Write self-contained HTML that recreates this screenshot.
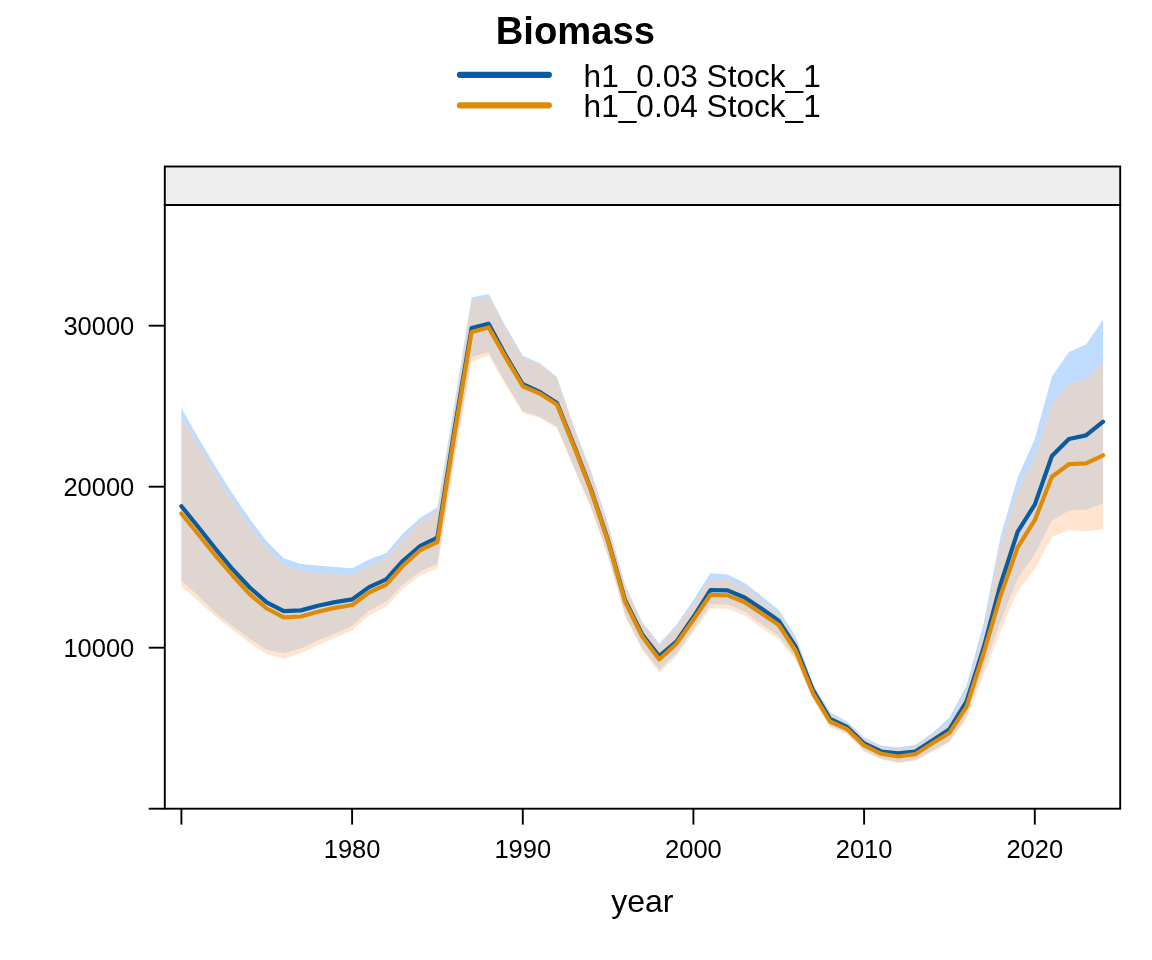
<!DOCTYPE html>
<html lang="en">
<head>
<meta charset="utf-8">
<title>Biomass</title>
<style>
html,body{margin:0;padding:0;background:#fff;}
body{width:1152px;height:960px;overflow:hidden;}
svg{display:block;}
text{font-family:"Liberation Sans",Arial,Helvetica,sans-serif;fill:#000;}
</style>
</head>
<body>
<svg width="1152" height="960" viewBox="0 0 1152 960">
<rect x="0" y="0" width="1152" height="960" fill="#ffffff"/>
<text x="575.4" y="43.9" font-size="38.2" font-weight="bold" text-anchor="middle">Biomass</text>
<line x1="460" y1="74.8" x2="548.8" y2="74.8" stroke="#0B5BA0" stroke-width="6.3" stroke-linecap="round"/>
<line x1="460" y1="105.3" x2="548.8" y2="105.3" stroke="#DE8C08" stroke-width="6.3" stroke-linecap="round"/>
<text x="583.6" y="87.0" font-size="31.6">h1_0.03 Stock_1</text>
<text x="583.6" y="117.2" font-size="31.6">h1_0.04 Stock_1</text>
<defs><clipPath id="cb"><polygon points="181.4,408.0 198.5,438.0 215.5,466.7 232.6,493.8 249.7,518.8 266.7,541.3 283.8,558.3 300.9,564.0 317.9,565.6 335.0,567.0 352.1,568.3 369.1,559.4 386.2,553.1 403.3,533.3 420.4,517.7 437.4,507.3 454.5,403.0 471.6,297.5 488.6,294.1 505.7,326.4 522.8,355.8 539.8,363.3 556.9,376.9 574.0,427.0 591.0,471.0 608.1,524.0 625.2,585.3 642.2,621.9 659.3,643.8 676.4,625.0 693.4,600.0 710.5,573.3 727.6,574.4 744.6,582.9 761.7,596.2 778.8,610.0 795.8,636.5 812.9,684.0 830.0,712.0 847.1,721.5 864.1,737.5 881.2,745.4 898.3,747.5 915.3,745.0 932.4,733.0 949.5,717.5 966.5,685.5 983.6,623.5 1000.7,535.8 1017.7,477.5 1034.8,439.0 1051.9,376.5 1068.9,351.9 1086.0,344.6 1103.1,319.8 1103.1,503.5 1086.0,509.8 1068.9,510.4 1051.9,520.8 1034.8,554.2 1017.7,578.5 1000.7,621.2 983.6,668.0 966.5,716.5 949.5,741.0 932.4,750.5 915.3,760.0 898.3,762.0 881.2,758.5 864.1,750.5 847.1,732.5 830.0,726.0 812.9,697.0 795.8,657.5 778.8,636.0 761.7,624.0 744.6,611.5 727.6,604.6 710.5,604.2 693.4,629.0 676.4,653.5 659.3,669.8 642.2,648.0 625.2,615.0 608.1,555.5 591.0,506.5 574.0,467.0 556.9,426.5 539.8,416.5 522.8,411.0 505.7,383.0 488.6,351.9 471.6,356.9 454.5,456.0 437.4,563.6 420.4,571.3 403.3,584.0 386.2,601.5 369.1,610.6 352.1,626.0 335.0,633.5 317.9,640.4 300.9,648.5 283.8,653.3 266.7,649.7 249.7,638.8 232.6,626.2 215.5,612.7 198.5,596.0 181.4,580.9"/></clipPath></defs>
<polygon points="181.4,408.0 198.5,438.0 215.5,466.7 232.6,493.8 249.7,518.8 266.7,541.3 283.8,558.3 300.9,564.0 317.9,565.6 335.0,567.0 352.1,568.3 369.1,559.4 386.2,553.1 403.3,533.3 420.4,517.7 437.4,507.3 454.5,403.0 471.6,297.5 488.6,294.1 505.7,326.4 522.8,355.8 539.8,363.3 556.9,376.9 574.0,427.0 591.0,471.0 608.1,524.0 625.2,585.3 642.2,621.9 659.3,643.8 676.4,625.0 693.4,600.0 710.5,573.3 727.6,574.4 744.6,582.9 761.7,596.2 778.8,610.0 795.8,636.5 812.9,684.0 830.0,712.0 847.1,721.5 864.1,737.5 881.2,745.4 898.3,747.5 915.3,745.0 932.4,733.0 949.5,717.5 966.5,685.5 983.6,623.5 1000.7,535.8 1017.7,477.5 1034.8,439.0 1051.9,376.5 1068.9,351.9 1086.0,344.6 1103.1,319.8 1103.1,503.5 1086.0,509.8 1068.9,510.4 1051.9,520.8 1034.8,554.2 1017.7,578.5 1000.7,621.2 983.6,668.0 966.5,716.5 949.5,741.0 932.4,750.5 915.3,760.0 898.3,762.0 881.2,758.5 864.1,750.5 847.1,732.5 830.0,726.0 812.9,697.0 795.8,657.5 778.8,636.0 761.7,624.0 744.6,611.5 727.6,604.6 710.5,604.2 693.4,629.0 676.4,653.5 659.3,669.8 642.2,648.0 625.2,615.0 608.1,555.5 591.0,506.5 574.0,467.0 556.9,426.5 539.8,416.5 522.8,411.0 505.7,383.0 488.6,351.9 471.6,356.9 454.5,456.0 437.4,563.6 420.4,571.3 403.3,584.0 386.2,601.5 369.1,610.6 352.1,626.0 335.0,633.5 317.9,640.4 300.9,648.5 283.8,653.3 266.7,649.7 249.7,638.8 232.6,626.2 215.5,612.7 198.5,596.0 181.4,580.9" fill="#BFDBFD"/>
<polygon points="181.4,417.7 198.5,445.8 215.5,474.5 232.6,501.5 249.7,526.0 266.7,548.5 283.8,565.5 300.9,571.3 317.9,572.9 335.0,574.3 352.1,575.0 369.1,565.6 386.2,558.6 403.3,539.0 420.4,521.9 437.4,510.8 454.5,409.0 471.6,300.8 488.6,297.5 505.7,328.8 522.8,357.6 539.8,364.3 556.9,378.0 574.0,429.0 591.0,473.0 608.1,526.0 625.2,588.0 642.2,623.5 659.3,645.8 676.4,627.5 693.4,604.0 710.5,579.3 727.6,580.2 744.6,587.8 761.7,601.0 778.8,614.2 795.8,639.6 812.9,686.0 830.0,714.0 847.1,723.5 864.1,739.5 881.2,747.4 898.3,749.5 915.3,747.0 932.4,735.5 949.5,723.0 966.5,693.5 983.6,634.0 1000.7,544.2 1017.7,491.5 1034.8,458.0 1051.9,403.5 1068.9,384.2 1086.0,379.6 1103.1,362.5 1103.1,529.2 1086.0,531.2 1068.9,530.0 1051.9,536.9 1034.8,569.2 1017.7,591.0 1000.7,630.6 983.6,675.5 966.5,719.0 949.5,742.3 932.4,751.7 915.3,761.0 898.3,763.0 881.2,759.6 864.1,751.7 847.1,734.0 830.0,727.7 812.9,699.0 795.8,660.4 778.8,639.6 761.7,628.1 744.6,615.6 727.6,608.8 710.5,608.3 693.4,632.3 676.4,656.2 659.3,672.9 642.2,650.0 625.2,616.7 608.1,557.3 591.0,508.3 574.0,468.8 556.9,428.3 539.8,418.1 522.8,412.9 505.7,385.2 488.6,355.5 471.6,361.8 454.5,461.0 437.4,568.3 420.4,575.3 403.3,588.6 386.2,606.5 369.1,615.5 352.1,630.6 335.0,637.7 317.9,645.0 300.9,653.3 283.8,658.8 266.7,653.9 249.7,642.9 232.6,629.9 215.5,616.4 198.5,601.2 181.4,586.7" fill="#FFE5CF"/>
<polygon points="181.4,417.7 198.5,445.8 215.5,474.5 232.6,501.5 249.7,526.0 266.7,548.5 283.8,565.5 300.9,571.3 317.9,572.9 335.0,574.3 352.1,575.0 369.1,565.6 386.2,558.6 403.3,539.0 420.4,521.9 437.4,510.8 454.5,409.0 471.6,300.8 488.6,297.5 505.7,328.8 522.8,357.6 539.8,364.3 556.9,378.0 574.0,429.0 591.0,473.0 608.1,526.0 625.2,588.0 642.2,623.5 659.3,645.8 676.4,627.5 693.4,604.0 710.5,579.3 727.6,580.2 744.6,587.8 761.7,601.0 778.8,614.2 795.8,639.6 812.9,686.0 830.0,714.0 847.1,723.5 864.1,739.5 881.2,747.4 898.3,749.5 915.3,747.0 932.4,735.5 949.5,723.0 966.5,693.5 983.6,634.0 1000.7,544.2 1017.7,491.5 1034.8,458.0 1051.9,403.5 1068.9,384.2 1086.0,379.6 1103.1,362.5 1103.1,529.2 1086.0,531.2 1068.9,530.0 1051.9,536.9 1034.8,569.2 1017.7,591.0 1000.7,630.6 983.6,675.5 966.5,719.0 949.5,742.3 932.4,751.7 915.3,761.0 898.3,763.0 881.2,759.6 864.1,751.7 847.1,734.0 830.0,727.7 812.9,699.0 795.8,660.4 778.8,639.6 761.7,628.1 744.6,615.6 727.6,608.8 710.5,608.3 693.4,632.3 676.4,656.2 659.3,672.9 642.2,650.0 625.2,616.7 608.1,557.3 591.0,508.3 574.0,468.8 556.9,428.3 539.8,418.1 522.8,412.9 505.7,385.2 488.6,355.5 471.6,361.8 454.5,461.0 437.4,568.3 420.4,575.3 403.3,588.6 386.2,606.5 369.1,615.5 352.1,630.6 335.0,637.7 317.9,645.0 300.9,653.3 283.8,658.8 266.7,653.9 249.7,642.9 232.6,629.9 215.5,616.4 198.5,601.2 181.4,586.7" fill="#E0D6D1" clip-path="url(#cb)"/>
<polyline points="181.4,506.2 198.5,527.3 215.5,548.7 232.6,569.3 249.7,587.5 266.7,602.3 283.8,611.2 300.9,610.4 317.9,605.8 335.0,602.1 352.1,599.4 369.1,587.1 386.2,579.4 403.3,560.5 420.4,545.8 437.4,537.6 454.5,429.5 471.6,328.1 488.6,323.8 505.7,355.5 522.8,384.2 539.8,391.9 556.9,402.9 574.0,445.5 591.0,489.5 608.1,540.5 625.2,600.5 642.2,634.5 659.3,656.2 676.4,641.7 693.4,617.0 710.5,590.0 727.6,590.4 744.6,597.5 761.7,608.8 778.8,620.8 795.8,646.9 812.9,690.0 830.0,718.8 847.1,727.0 864.1,743.5 881.2,751.5 898.3,753.3 915.3,751.5 932.4,740.5 949.5,729.2 966.5,701.7 983.6,648.0 1000.7,583.8 1017.7,531.7 1034.8,504.6 1051.9,456.0 1068.9,439.0 1086.0,435.4 1103.1,421.7" fill="none" stroke="#0B5BA0" stroke-width="4.2" stroke-linejoin="round" stroke-linecap="round"/>
<polyline points="181.4,513.5 198.5,534.5 215.5,555.6 232.6,575.5 249.7,594.2 266.7,608.5 283.8,617.3 300.9,616.5 317.9,611.7 335.0,607.9 352.1,605.0 369.1,592.5 386.2,584.6 403.3,565.5 420.4,550.0 437.4,542.0 454.5,434.3 471.6,332.1 488.6,327.4 505.7,357.6 522.8,386.2 539.8,393.5 556.9,404.4 574.0,446.8 591.0,490.6 608.1,541.7 625.2,602.1 642.2,636.5 659.3,659.4 676.4,643.8 693.4,619.8 710.5,594.8 727.6,595.4 744.6,602.3 761.7,613.5 778.8,625.0 795.8,651.0 812.9,693.3 830.0,721.5 847.1,729.2 864.1,745.4 881.2,753.8 898.3,756.5 915.3,754.2 932.4,743.3 949.5,732.9 966.5,706.9 983.6,653.5 1000.7,595.2 1017.7,547.3 1034.8,520.2 1051.9,476.8 1068.9,464.2 1086.0,463.4 1103.1,455.3" fill="none" stroke="#DE8C08" stroke-width="4.2" stroke-linejoin="round" stroke-linecap="round"/>
<rect x="164.8" y="166.5" width="955.4" height="38.5" fill="#EEEEEE" stroke="#000" stroke-width="1.9"/>
<rect x="164.8" y="205.0" width="955.4" height="603.7" fill="none" stroke="#000" stroke-width="1.9"/>
<line x1="148.7" y1="808.7" x2="164.8" y2="808.7" stroke="#000" stroke-width="1.9"/>
<line x1="148.7" y1="647.7" x2="164.8" y2="647.7" stroke="#000" stroke-width="1.9"/>
<text x="134.3" y="656.8" font-size="25.5" text-anchor="end">10000</text>
<line x1="148.7" y1="486.7" x2="164.8" y2="486.7" stroke="#000" stroke-width="1.9"/>
<text x="134.3" y="495.8" font-size="25.5" text-anchor="end">20000</text>
<line x1="148.7" y1="325.7" x2="164.8" y2="325.7" stroke="#000" stroke-width="1.9"/>
<text x="134.3" y="334.8" font-size="25.5" text-anchor="end">30000</text>
<line x1="181.4" y1="808.7" x2="181.4" y2="824.6" stroke="#000" stroke-width="1.9"/>
<line x1="352.1" y1="808.7" x2="352.1" y2="824.6" stroke="#000" stroke-width="1.9"/>
<text x="352.1" y="857.6" font-size="25.5" text-anchor="middle">1980</text>
<line x1="522.8" y1="808.7" x2="522.8" y2="824.6" stroke="#000" stroke-width="1.9"/>
<text x="522.8" y="857.6" font-size="25.5" text-anchor="middle">1990</text>
<line x1="693.4" y1="808.7" x2="693.4" y2="824.6" stroke="#000" stroke-width="1.9"/>
<text x="693.4" y="857.6" font-size="25.5" text-anchor="middle">2000</text>
<line x1="864.1" y1="808.7" x2="864.1" y2="824.6" stroke="#000" stroke-width="1.9"/>
<text x="864.1" y="857.6" font-size="25.5" text-anchor="middle">2010</text>
<line x1="1034.8" y1="808.7" x2="1034.8" y2="824.6" stroke="#000" stroke-width="1.9"/>
<text x="1034.8" y="857.6" font-size="25.5" text-anchor="middle">2020</text>
<text x="642.4" y="912.2" font-size="32" text-anchor="middle">year</text>
</svg>
</body>
</html>
